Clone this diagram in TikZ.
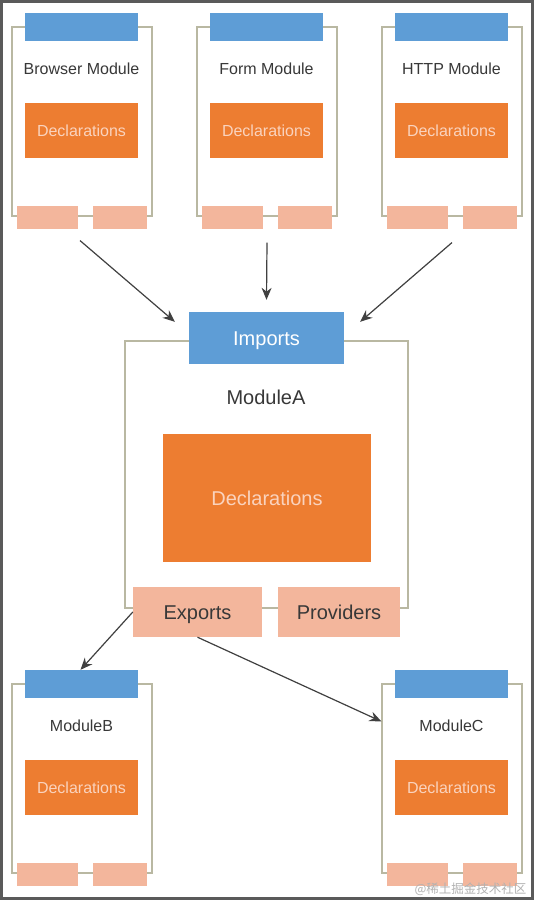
\documentclass[tikz,border=0pt]{standalone}
\usepackage{fontspec}
\setmainfont{Liberation Sans}
\newfontfamily\cjkfont{Noto Sans CJK SC}
\usetikzlibrary{arrows.meta}
\definecolor{impblue}{HTML}{5E9DD6}
\definecolor{declorange}{HTML}{ED7D31}
\definecolor{decltext}{HTML}{FAD3BE}
\definecolor{slotpink}{HTML}{F3B69C}
\definecolor{frameline}{HTML}{B9B8A2}
\definecolor{labelgrey}{HTML}{383838}
\definecolor{arrowgrey}{HTML}{404040}
\definecolor{outergrey}{HTML}{5A5A5A}
\tikzset{
  modframe/.style={draw=frameline, line width=1.1pt, inner sep=0pt},
  bar/.style={fill=impblue, inner sep=0pt, text=white},
  decl/.style={fill=declorange, text=decltext, inner sep=0pt},
  slot/.style={fill=slotpink, inner sep=0pt, text=labelgrey},
  modlabel/.style={text=labelgrey, inner sep=0pt},
  small/.style={font=\fontsize{16}{19}\selectfont, text height=11.5pt, text depth=0pt},
  large/.style={font=\fontsize{20}{24}\selectfont, text height=14.4pt, text depth=0pt},
  link/.style={draw=arrowgrey, line width=1.2pt, -{Stealth[length=12pt,width=10pt]}},
}
\begin{document}
\begin{tikzpicture}[x=1pt, y=-1pt]
  \useasboundingbox (0,0) rectangle (534,900);
  \fill[white] (0,0) rectangle (534,900);
  \draw[outergrey, line width=3pt] (1.5,1.5) rectangle (532.5,898.5);
  % small modules
  \foreach \name/\ox/\ty/\title in {browser/12/27/Browser Module, form/197/27/Form Module,
      http/382/27/HTTP Module, moduleb/12/684/ModuleB, modulec/382/684/ModuleC} {
    \begin{scope}[shift={(\ox,\ty)}]
      \node[modframe, minimum width=140pt, minimum height=189pt] (\name) at (70,94.5) {};
      \node[bar, minimum width=113pt, minimum height=28pt] (\name bar) at (69.5,0) {};
      \node[modlabel, small] (\name label) at (69.5,42) {\title};
      \node[decl, small, minimum width=113pt, minimum height=55pt] (\name decl) at (69.5,103.5) {Declarations};
      % exports / providers slots
      \node[slot, minimum width=61pt, minimum height=23pt] (\name exp) at (35.5,190.5) {};
      \node[slot, minimum width=54pt, minimum height=23pt] (\name prov) at (108,190.5) {};
    \end{scope}
  }
  % ModuleA
  \node[modframe, minimum width=283pt, minimum height=267pt] (modulea) at (266.5,474.5) {};
  \node[bar, large, minimum width=155pt, minimum height=52pt] (imports) at (266.5,338) {Imports};
  \node[modlabel, large] (modulealabel) at (266,397) {ModuleA};
  \node[decl, large, minimum width=208pt, minimum height=128pt] (moduleadecl) at (267,498) {Declarations};
  \node[slot, large, minimum width=129pt, minimum height=50pt] (exports) at (197.5,612) {Exports};
  \node[slot, large, minimum width=122pt, minimum height=50pt] (providers) at (339,612) {Providers};
  % imports
  \draw[link] ([xshift=-2pt, yshift=-24pt]browser.south) -- ([xshift=-14pt, yshift=-10pt]imports.north west);
  \draw[link] ([yshift=-26pt]form.south) -- ([yshift=12pt]imports.north);
  \draw[link] ([yshift=-26pt]http.south) -- ([xshift=16pt, yshift=-10pt]imports.north east);
  % exports
  \draw[link] (exports.west) -- ([xshift=-1pt]modulebbar.north);
  \draw[link] (exports.south) -- ([yshift=-38pt]modulec.north west);
  % watermark
  \node[text=gray!60, font=\cjkfont\fontsize{12.5}{14}\selectfont, anchor=east] (mark) at (530,889) {@稀土掘金技术社区};
\end{tikzpicture}
\end{document}
